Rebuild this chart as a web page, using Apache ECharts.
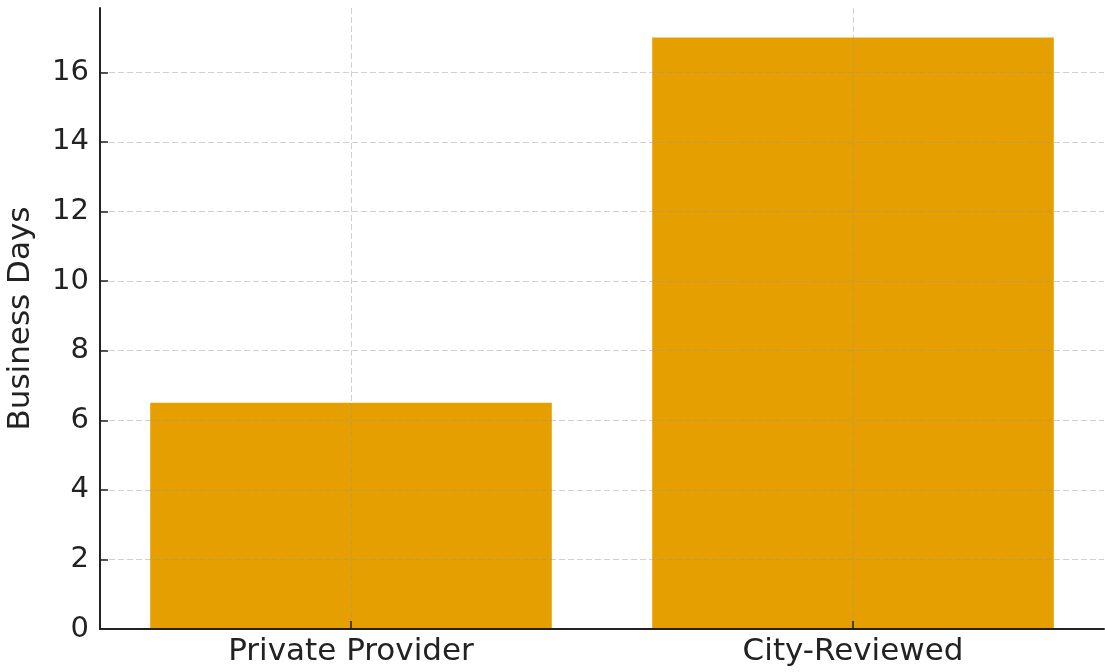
<!DOCTYPE html>
<html>
<head>
<meta charset="utf-8">
<script src="https://cdn.jsdelivr.net/npm/echarts@6/dist/echarts.min.js"></script>
<style>
  html, body { margin: 0; padding: 0; background: #fff; }
  #chart { width: 1105px; height: 672px; }
</style>
</head>
<body>
<div id="chart"></div>
<script>
var categories = ['Private Provider', 'City-Reviewed'];
var businessDays = [6.5, 17];
var yTicks = [0, 2, 4, 6, 8, 10, 12, 14, 16];

var myChart = echarts.init(document.getElementById('chart'));

var gridColor = 'rgba(150,150,150,0.45)';

var option = {
    animation: false,
    textStyle: { fontFamily: 'DejaVu Sans' },
    grid: { left: 100, right: 1, top: 8, bottom: 43, outerBoundsMode: 'none', containLabel: false },
    xAxis: [
        {
            type: 'category',
            data: categories,
            z: 5,
            axisLine: { lineStyle: { color: '#222', width: 2 } },
            axisTick: { show: true, inside: true, alignWithLabel: true, length: 8, lineStyle: { color: '#222', width: 1.5 } },
            axisLabel: { color: '#222', fontSize: 31, margin: 7 },
            splitLine: { show: false }
        },
        {
            // hidden helper axis for vertical grid lines at bar centres
            type: 'value',
            min: -0.5,
            max: 1.5,
            interval: 0.5,
            z: 5,
            axisLine: { show: false },
            axisTick: { show: false },
            axisLabel: { show: false },
            splitLine: { show: true, lineStyle: { color: ['rgba(0,0,0,0)', gridColor], type: [6, 3], width: 1 } }
        }
    ],
    yAxis: {
        type: 'value',
        min: 0,
        max: 17.85,
        interval: 2,
        z: 5,
        name: 'Business Days',
        nameLocation: 'middle',
        nameGap: 64,
        nameTextStyle: { color: '#222', fontSize: 31 },
        axisLine: { show: true, onZero: false, lineStyle: { color: '#222', width: 2 } },
        axisTick: { show: true, inside: true, length: 8, lineStyle: { color: '#222', width: 1.5 } },
        axisLabel: {
            color: '#222', fontSize: 29, margin: 11, showMaxLabel: false,
            formatter: function (v) { return yTicks.indexOf(v) >= 0 ? String(v) : ''; }
        },
        splitLine: { show: true, showMaxLine: false, lineStyle: { color: gridColor, type: [6, 3], width: 1 } }
    },
    series: [
        {
            type: 'bar',
            data: businessDays,
            barWidth: '80%',
            itemStyle: { color: '#E69F00' },
            z: 1
        }
    ]
};

myChart.setOption(option);
</script>
</body>
</html>
